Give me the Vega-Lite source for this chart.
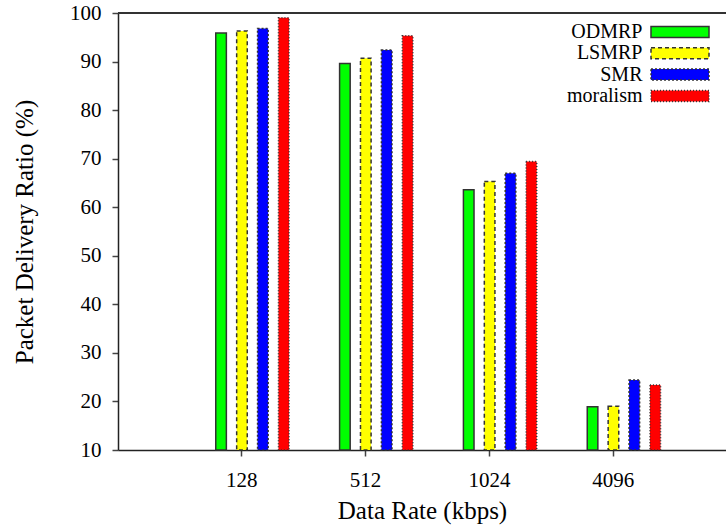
{
  "$schema": "https://vega.github.io/schema/vega-lite/v6.json",
  "autosize": {"type": "none"},
  "padding": {"left": 118, "top": 13, "right": 0, "bottom": 77},
  "width": 608,
  "height": 437,
  "background": "white",
  "config": {
    "view": {"stroke": null},
    "font": "Liberation Serif",
    "axis": {
      "labelFont": "Liberation Serif",
      "titleFont": "Liberation Serif",
      "labelFontSize": 21,
      "titleFontSize": 25,
      "titleFontWeight": "normal",
      "labelColor": "black",
      "titleColor": "black",
      "domainColor": "#222",
      "domainWidth": 1.5,
      "tickColor": "#444",
      "tickWidth": 1.5,
      "tickSize": 6,
      "grid": false
    },
    "legend": {
      "labelFont": "Liberation Serif",
      "labelFontSize": 20,
      "labelColor": "black",
      "padding": 0
    }
  },
  "data": {
    "values": [
      {"rate": "128", "protocol": "ODMRP", "pdr": 95.9},
      {"rate": "128", "protocol": "LSMRP", "pdr": 96.3},
      {"rate": "128", "protocol": "SMR", "pdr": 96.8},
      {"rate": "128", "protocol": "moralism", "pdr": 99.0},
      {"rate": "512", "protocol": "ODMRP", "pdr": 89.6},
      {"rate": "512", "protocol": "LSMRP", "pdr": 90.7},
      {"rate": "512", "protocol": "SMR", "pdr": 92.4},
      {"rate": "512", "protocol": "moralism", "pdr": 95.3},
      {"rate": "1024", "protocol": "ODMRP", "pdr": 63.6},
      {"rate": "1024", "protocol": "LSMRP", "pdr": 65.3},
      {"rate": "1024", "protocol": "SMR", "pdr": 67.0},
      {"rate": "1024", "protocol": "moralism", "pdr": 69.4},
      {"rate": "4096", "protocol": "ODMRP", "pdr": 18.9},
      {"rate": "4096", "protocol": "LSMRP", "pdr": 19.0},
      {"rate": "4096", "protocol": "SMR", "pdr": 24.4},
      {"rate": "4096", "protocol": "moralism", "pdr": 23.4}
    ]
  },
  "layer": [
    {
      "mark": {"type": "bar", "stroke": "#333", "strokeWidth": 1.5},
      "encoding": {
        "x": {
          "field": "rate",
          "type": "nominal",
          "sort": ["128", "512", "1024", "4096"],
          "scale": {"paddingInner": 0, "paddingOuter": 0.455, "align": 0.549},
          "axis": {
            "title": "Data Rate (kbps)",
            "labelAngle": 0,
            "labelPadding": 13,
            "titlePadding": 8
          }
        },
        "xOffset": {
          "field": "protocol",
          "type": "nominal",
          "sort": ["ODMRP", "LSMRP", "SMR", "moralism"],
          "scale": {"range": [35.9, 109.2], "paddingInner": 0.493, "paddingOuter": 0}
        },
        "y": {
          "field": "pdr",
          "type": "quantitative",
          "scale": {"domain": [10, 100], "zero": false, "nice": false},
          "axis": {
            "title": "Packet Delivery Ratio (%)",
            "values": [10, 20, 30, 40, 50, 60, 70, 80, 90, 100],
            "labelPadding": 11,
            "titlePadding": 32
          }
        },
        "y2": {"datum": 10},
        "color": {
          "field": "protocol",
          "type": "nominal",
          "sort": ["ODMRP", "LSMRP", "SMR", "moralism"],
          "scale": {
            "domain": ["ODMRP", "LSMRP", "SMR", "moralism"],
            "range": ["#00ff00", "#ffff00", "#0000ff", "#ff0000"]
          },
          "legend": {
            "title": null,
            "orient": "none",
            "legendX": 552,
            "legendY": 9,
            "symbolType": "M-5,-0.95H5V0.95H-5Z",
            "symbolSize": 134.6,
            "symbolStrokeColor": "#333",
            "symbolStrokeWidth": 1.5,
            "labelAlign": "right",
            "labelOffset": -47.5,
            "rowPadding": 1.3
          }
        },
        "strokeDash": {
          "field": "protocol",
          "type": "nominal",
          "sort": ["ODMRP", "LSMRP", "SMR", "moralism"],
          "scale": {
            "domain": ["ODMRP", "LSMRP", "SMR", "moralism"],
            "range": [[1, 0], [4, 3], [2, 2], [1, 2]]
          }
        }
      }
    },
    {
      "mark": {"type": "rule", "color": "#333", "strokeWidth": 1.5},
      "encoding": {"y": {"datum": 100}}
    }
  ]
}
